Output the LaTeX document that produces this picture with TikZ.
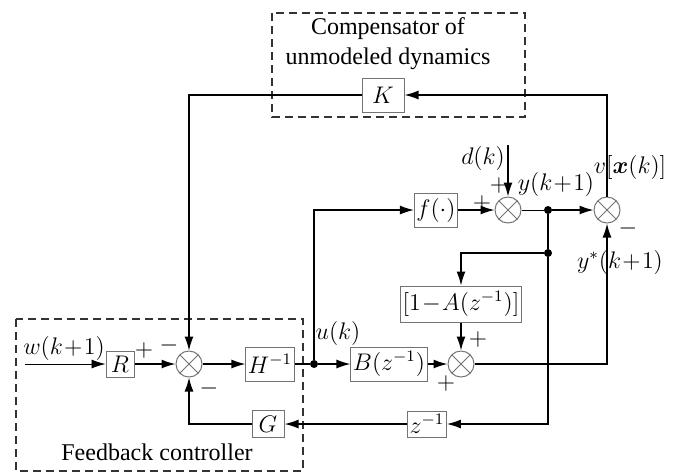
\documentclass[tikz,border=0pt]{standalone}
\usepackage{amsmath}
\usepackage{bm}
\usepackage{fontspec}
\setmainfont{Liberation Serif}
\usetikzlibrary{arrows.meta}
\definecolor{boxgray}{gray}{0.45}

\begin{document}
\begin{tikzpicture}[x=0.5pt, y=-0.5pt, font=\fontsize{12}{14}\selectfont,
    block/.style={draw=boxgray, line width=0.5pt, inner sep=1pt, minimum height=17pt},
    sumnode/.style={draw=boxgray, circle, line width=0.5pt, minimum size=13pt, inner sep=0pt,
        path picture={\draw[boxgray, line width=0.5pt] (path picture bounding box.north west) -- (path picture bounding box.south east)
            (path picture bounding box.north east) -- (path picture bounding box.south west);}},
    sig/.style={line width=0.7pt},
    arr/.style={sig, -{Latex[length=7pt, width=4.5pt]}},
    dot/.style={circle, fill=black, inner sep=0pt, minimum size=4pt},
    sign/.style={inner sep=0pt},
    region/.style={dash pattern=on 4pt off 2.5pt, line width=0.8pt, draw=black!80}]
    \useasboundingbox (0,0) rectangle (678,473);

    % Dashed regions
    \draw[region] (272,13) rectangle (525,117);
    \draw[region] (16,319) rectangle (303,471);
    \node[align=center] (comptext) at (388,44) {Compensator of\\[1pt]unmodeled dynamics};
    \node (fbtext) at (157,452) {Feedback controller};

    % Blocks
    \node[block, minimum width=21pt] (K) at (383,95) {$K$};
    \node[block, minimum width=14pt, minimum height=13pt] (R) at (120,364) {$R$};
    \node[sumnode] (sumM) at (189,364) {};
    \node[block, minimum width=21.5pt] (H) at (270,364) {$H^{-1}$};
    \node[block, minimum width=16pt, minimum height=13.5pt] (G) at (268,424) {$G$};
    \node[block, minimum width=21.5pt] (f) at (436,210) {$f(\cdot)$};
    \node[sumnode] (sumY) at (508,210) {};
    \node[sumnode] (sumV) at (607,210) {};
    \node[block, minimum width=54.5pt, minimum height=18pt] (A) at (461,304) {$[1\!-\!A(z^{-1})]$};
    \node[block, minimum width=35.5pt] (B) at (389,364) {$B(z^{-1})$};
    \node[sumnode] (sumB) at (461,364) {};
    \node[block, minimum width=14.5pt, minimum height=13pt] (z) at (427,424) {$z^{-1}$};

    % Junctions and free ends
    \node[dot] (jU) at (314,364) {};
    \node[dot] (jY1) at (548,210) {};
    \node[dot] (jY2) at (548,253) {};
    \coordinate (win) at (25,364);
    \coordinate (din) at (508,145);

    % Connectors
    \draw[arr, line width=0.4pt] (win) -- (R);
    \draw[arr] (R) -- (sumM);
    \draw[arr] (sumM) -- (H);
    \draw[sig] (H) -- (jU);
    \draw[arr] (jU) -- (B);
    \draw[arr] (jU) |- (f);
    \draw[arr] (f) -- (sumY);
    \draw[arr] (din) -- (sumY);
    \draw[sig, line width=0.4pt] (sumY) -- (jY1);
    \draw[arr] (jY1) -- (sumV);
    \draw[arr] (sumV.north) |- (K.east);
    \draw[arr] (K.west) -| (sumM.north);
    \draw[sig] (jY1) -- (jY2);
    \draw[arr] (jY2) -| (A.north);
    \draw[arr] (A.south) -- (sumB.north);
    \draw[arr] (B) -- (sumB);
    \draw[arr] (sumB.east) -| (sumV.south);
    \draw[arr] (jY2) |- (z.east);
    \draw[arr] (z.west) -- (G.east);
    \draw[arr] (G.west) -| (sumM.south);

    % Signal labels
    \node (wlab) at (64,348) {$w(k\!+\!1)$};
    \node (ulab) at (338,333) {$u(k)$};
    \node (dlab) at (483,158) {$d(k)$};
    \node (ylab) at (556,184) {$y(k\!+\!1)$};
    \node (vlab) at (630,167) {$v[\bm{x}(k)]$};
    \node (ystarlab) at (620,262) {$y^{*}(k\!+\!1)$};

    % Signs
    \node[sign] (pR) at (144,350) {$+$};
    \node[sign] (mK) at (169,345) {$-$};
    \node[sign] (mG) at (209,388) {$-$};
    \node[sign] (pf) at (482,203) {$+$};
    \node[sign] (pd) at (499,185) {$+$};
    \node[sign] (mV) at (628,228) {$-$};
    \node[sign] (pA) at (478,339) {$+$};
    \node[sign] (pB) at (446,383) {$+$};
\end{tikzpicture}
\end{document}
